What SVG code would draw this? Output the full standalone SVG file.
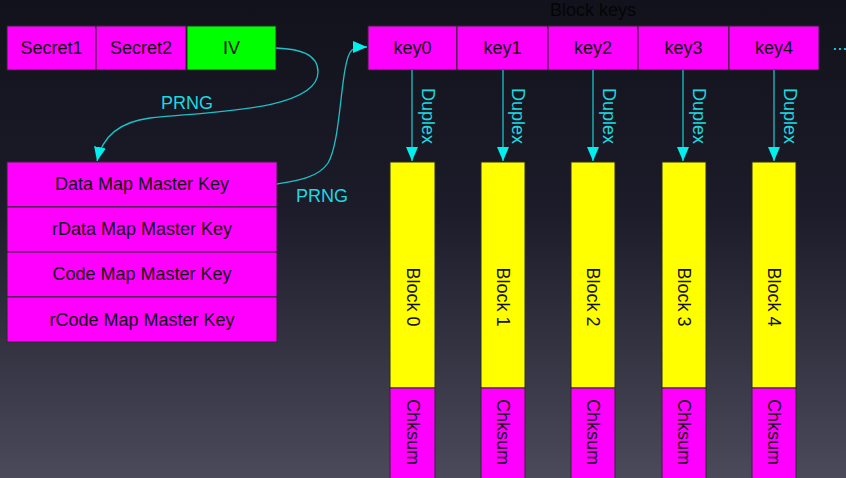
<svg xmlns="http://www.w3.org/2000/svg" width="846" height="478" viewBox="0 0 846 478">
  <defs>
    <linearGradient id="bg" x1="0" y1="0" x2="0" y2="1">
      <stop offset="0" stop-color="#12121c"/>
      <stop offset="0.45" stop-color="#1c1c2a"/>
      <stop offset="1" stop-color="#4a4a5a"/>
    </linearGradient>
    <marker id="arrow" viewBox="0 0 14 12" refX="14" refY="6" markerWidth="14" markerHeight="12" markerUnits="userSpaceOnUse" orient="auto">
      <path d="M0,0 L14,6 L0,12 Z" fill="#00f0f0"/>
    </marker>
    <style>
      .box { stroke: #2a2a2a; stroke-width: 1; }
      .mag { fill: #ff00ff; }
      .grn { fill: #00ff00; }
      .yel { fill: #ffff00; }
      .t { font-family: "Liberation Sans", Arial, sans-serif; font-size: 18px; fill: #111; text-anchor: middle; dominant-baseline: central; }
      .title { fill: #050505; }
      .lbl { font-family: "Liberation Sans", Arial, sans-serif; font-size: 18px; fill: #1ed8e0; text-anchor: middle; dominant-baseline: central; }
      .link { fill: none; stroke: #1ec0c8; stroke-width: 1.3; marker-end: url(#arrow); }
    </style>
  </defs>

  <rect x="0" y="0" width="846" height="478" fill="url(#bg)"/>

  <!-- secrets and IV -->
  <g id="secret1"><rect class="box mag" x="7" y="26" width="89" height="44"/><text class="t" x="51.5" y="48">Secret1</text></g>
  <g id="secret2"><rect class="box mag" x="96" y="26" width="90" height="44"/><text class="t" x="141" y="48">Secret2</text></g>
  <g id="iv"><rect class="box grn" x="187" y="26" width="89" height="44"/><text class="t" x="231.5" y="48">IV</text></g>

  <!-- master keys -->
  <g id="data-map"><rect class="box mag" x="7" y="162" width="270" height="45"/><text class="t" x="142" y="184">Data Map Master Key</text></g>
  <g id="rdata-map"><rect class="box mag" x="7" y="207" width="270" height="45"/><text class="t" x="142" y="229">rData Map Master Key</text></g>
  <g id="code-map"><rect class="box mag" x="7" y="252" width="270" height="45"/><text class="t" x="142" y="274">Code Map Master Key</text></g>
  <g id="rcode-map"><rect class="box mag" x="7" y="297" width="270" height="45"/><text class="t" x="142" y="320">rCode Map Master Key</text></g>

  <!-- block keys -->
  <g id="block-keys-title"><text class="t title" x="593" y="10">Block keys</text></g>
  <g id="key0"><rect class="box mag" x="368" y="26" width="89" height="44"/><text class="t" x="412.5" y="48">key0</text></g>
  <g id="key1"><rect class="box mag" x="457" y="26" width="91" height="44"/><text class="t" x="502.5" y="48">key1</text></g>
  <g id="key2"><rect class="box mag" x="548" y="26" width="90" height="44"/><text class="t" x="593" y="48">key2</text></g>
  <g id="key3"><rect class="box mag" x="638" y="26" width="91" height="44"/><text class="t" x="683.5" y="48">key3</text></g>
  <g id="key4"><rect class="box mag" x="729" y="26" width="90" height="44"/><text class="t" x="774" y="48">key4</text></g>
  <g id="more"><text class="lbl" x="840" y="44">...</text></g>

  <!-- data blocks with checksums -->
  <g id="block0">
    <rect class="box yel" x="390" y="162" width="45" height="226"/>
    <rect class="box mag" x="390" y="388" width="45" height="95"/>
    <text class="t" transform="translate(412.5,297) rotate(90)">Block 0</text>
    <text class="t" transform="translate(412.5,432) rotate(90)">Chksum</text>
  </g>
  <g id="block1">
    <rect class="box yel" x="481" y="162" width="44" height="226"/>
    <rect class="box mag" x="481" y="388" width="44" height="95"/>
    <text class="t" transform="translate(503,297) rotate(90)">Block 1</text>
    <text class="t" transform="translate(503,432) rotate(90)">Chksum</text>
  </g>
  <g id="block2">
    <rect class="box yel" x="571" y="162" width="44" height="226"/>
    <rect class="box mag" x="571" y="388" width="44" height="95"/>
    <text class="t" transform="translate(593,297) rotate(90)">Block 2</text>
    <text class="t" transform="translate(593,432) rotate(90)">Chksum</text>
  </g>
  <g id="block3">
    <rect class="box yel" x="662" y="162" width="44" height="226"/>
    <rect class="box mag" x="662" y="388" width="44" height="95"/>
    <text class="t" transform="translate(684,297) rotate(90)">Block 3</text>
    <text class="t" transform="translate(684,432) rotate(90)">Chksum</text>
  </g>
  <g id="block4">
    <rect class="box yel" x="752" y="162" width="44" height="226"/>
    <rect class="box mag" x="752" y="388" width="44" height="95"/>
    <text class="t" transform="translate(774,297) rotate(90)">Block 4</text>
    <text class="t" transform="translate(774,432) rotate(90)">Chksum</text>
  </g>

  <!-- connectors -->
  <g id="connectors">
    <path class="link" d="M276,48 C300,49 318,54 318,72 C318,112 200,112 150,118 C118,122 102,138 97,161"/>
    <text class="lbl" x="187" y="103">PRNG</text>
    <path class="link" d="M277,184 C296,181 318,178 328,163 C342,140 340,60 352,50 C356,47 362,47 367,47"/>
    <text class="lbl" x="322" y="196">PRNG</text>

    <path class="link" d="M412,70 L412,161"/>
    <path class="link" d="M503,70 L503,161"/>
    <path class="link" d="M593,70 L593,161"/>
    <path class="link" d="M683,70 L683,161"/>
    <path class="link" d="M774,70 L774,161"/>
    <text class="lbl" transform="translate(428,116) rotate(90)">Duplex</text>
    <text class="lbl" transform="translate(518,116) rotate(90)">Duplex</text>
    <text class="lbl" transform="translate(609,116) rotate(90)">Duplex</text>
    <text class="lbl" transform="translate(699,116) rotate(90)">Duplex</text>
    <text class="lbl" transform="translate(790,116) rotate(90)">Duplex</text>
  </g>
</svg>
